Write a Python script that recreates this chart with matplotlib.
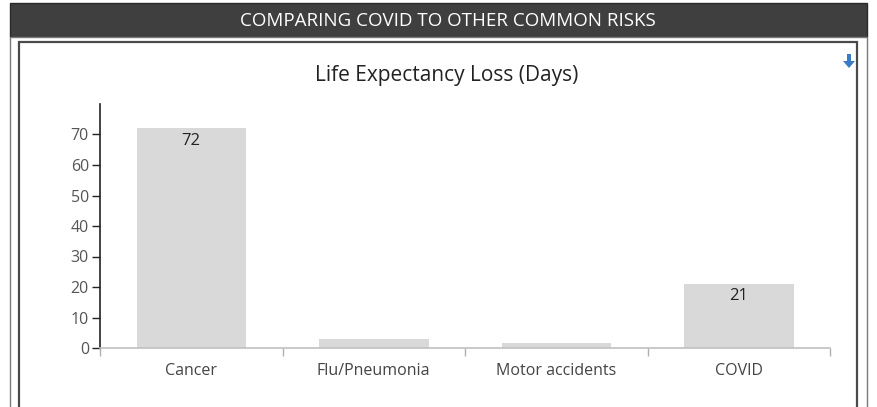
import matplotlib.pyplot as plt
import numpy as np
from matplotlib.patches import Rectangle, FancyArrow

# ---- data ----
categories = ["Cancer", "Flu/Pneumonia", "Motor accidents", "COVID"]
values = [72, 3, 1.5, 21]
labels_shown = ["72", None, None, "21"]
yticks = [0, 10, 20, 30, 40, 50, 60, 70]

W, H = 877, 407
plt.rcParams['font.family'] = ['Open Sans', 'DejaVu Sans']

fig = plt.figure(figsize=(W / 100, H / 100), dpi=100)


def fx(px):
    return px / W


def fy(py):
    return 1 - py / H


# ---- header bar and panel frames ----
frame_kw = dict(transform=fig.transFigure, zorder=-5)
fig.patches.append(Rectangle((fx(10), fy(37)), fx(857), 34 / H,
                             facecolor='#3f3f3f', edgecolor='#2a2a2a', lw=1, **frame_kw))
fig.patches.append(Rectangle((fx(10), fy(410)), fx(857), 373 / H,
                             facecolor='white', edgecolor='#7a7a7a', lw=1, **frame_kw))
fig.patches.append(Rectangle((fx(19), fy(410)), fx(838), 368 / H,
                             facecolor='white', edgecolor='#4a4a4a', lw=1.6, **frame_kw))
fig.text(fx(448), fy(21), "COMPARING COVID TO OTHER COMMON RISKS", color='white',
         fontsize=13.5, ha='center', va='center', fontstretch='semi-condensed')

# download arrow
fig.patches.append(FancyArrow(fx(849), fy(54), 0, -14 / H, width=4 / W,
                              head_width=12 / W, head_length=7 / H,
                              length_includes_head=True, transform=fig.transFigure,
                              color='#3a7cc4', lw=0))

fig.text(fx(447), fy(75), "Life Expectancy Loss (Days)", fontsize=15,
         color='#222222', ha='center', va='center')

# ---- chart ----
ax = fig.add_axes([fx(100), fy(348), fx(830) - fx(100), (348 - 104) / H])
ax.patch.set_alpha(0)
x = np.arange(len(categories))
ax.bar(x, values, width=0.6, color='#d9d9d9', zorder=2)
for xi, v, lab in zip(x, values, labels_shown):
    if lab:
        ax.annotate(lab, (xi, v), xytext=(0, -3), textcoords='offset points',
                    ha='center', va='top', fontsize=12, color='#222222')

ax.set_xlim(-0.5, len(categories) - 0.5)
ax.set_ylim(0, 80)
ax.set_yticks(yticks)
ax.set_yticklabels([str(t) for t in yticks])
ax.set_xticks(x)
ax.set_xticklabels(categories)
ax.set_xticks(np.arange(len(categories) + 1) - 0.5, minor=True)
ax.tick_params(axis='x', which='major', length=0, pad=11, labelsize=11.5, labelcolor='#444444')
ax.tick_params(axis='x', which='minor', length=6, color='#b0b0b0', width=1)
ax.tick_params(axis='y', length=6, width=1, color='#222222', labelsize=11.5,
               labelcolor='#555555', pad=2)

for s in ['top', 'right']:
    ax.spines[s].set_visible(False)
ax.spines['left'].set_color('#222222')
ax.spines['left'].set_linewidth(1.2)
ax.spines['bottom'].set_color('#c0c0c0')
ax.spines['bottom'].set_linewidth(1.2)

fig.savefig("out.png", dpi=100)
